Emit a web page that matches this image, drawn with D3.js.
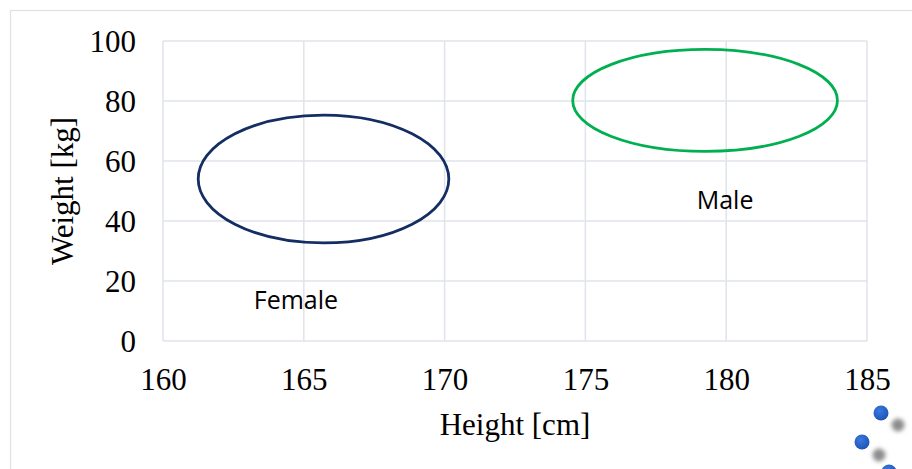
<!DOCTYPE html>
<html>
<head>
<meta charset="utf-8">
<script src="https://cdn.jsdelivr.net/npm/d3@7"></script>
<style>
  html, body { margin: 0; padding: 0; background: #ffffff; }
  svg { display: block; }
</style>
</head>
<body>
<svg id="chart" width="912" height="469"></svg>
<script>
// Height/weight ranges of two groups, drawn as ellipses
const groups = ["Female", "Male"];
const centerHeight = [165.7, 179.25];   // cm
const centerWeight = [54.0, 80.2];      // kg
const spreadHeight = [4.45, 4.7];       // cm (semi-axis)
const spreadWeight = [21.3, 17.0];      // kg (semi-axis)
const groupColors = ["#142d62", "#00b050"];
const labelHeight = [164.72, 179.96];   // cm, label anchor
const labelWeight = [10.7, 44.0];       // kg, label baseline

const xTicks = [160, 165, 170, 175, 180, 185];
const yTicks = [0, 20, 40, 60, 80, 100];

const svg = d3.select("#chart");
const W = 912, H = 469;
const plot = { left: 163, right: 867, top: 41, bottom: 341 };

const x = d3.scaleLinear().domain([160, 185]).range([plot.left, plot.right]);
const y = d3.scaleLinear().domain([0, 100]).range([plot.bottom, plot.top]);

const gridColor = "#dfe3ea";
const serif = "'Liberation Serif', 'Times New Roman', serif";

// chart frame
svg.append("rect")
  .attr("x", 10.5).attr("y", 10.5)
  .attr("width", W + 20).attr("height", H + 20)
  .attr("fill", "none").attr("stroke", "#dde1e8").attr("stroke-width", 1.2);

// gridlines
svg.append("g").attr("class", "grid-y")
  .selectAll("line").data(yTicks).join("line")
  .attr("x1", plot.left).attr("x2", plot.right)
  .attr("y1", d => y(d)).attr("y2", d => y(d))
  .attr("stroke", gridColor).attr("stroke-width", 1.5);

svg.append("g").attr("class", "grid-x")
  .selectAll("line").data(xTicks).join("line")
  .attr("y1", plot.top).attr("y2", plot.bottom)
  .attr("x1", d => x(d)).attr("x2", d => x(d))
  .attr("stroke", gridColor).attr("stroke-width", 1.5);

// axes (labels only, lines come from the grid)
const xAxis = d3.axisBottom(x).tickValues(xTicks).tickSize(0).tickPadding(0).tickFormat(d3.format("d"));
const gx = svg.append("g").attr("transform", `translate(0,${plot.bottom})`).call(xAxis);
gx.select(".domain").remove();
gx.selectAll("text")
  .attr("y", 49).attr("dy", null)
  .attr("font-family", serif).attr("font-size", 31).attr("fill", "#000");

const yAxis = d3.axisLeft(y).tickValues(yTicks).tickSize(0).tickPadding(0).tickFormat(d3.format("d"));
const gy = svg.append("g").attr("transform", `translate(${plot.left},0)`).call(yAxis);
gy.select(".domain").remove();
gy.selectAll("text")
  .attr("x", -27).attr("dy", "0.34em")
  .attr("font-family", serif).attr("font-size", 31).attr("fill", "#000");

// axis titles
svg.append("text")
  .attr("x", (plot.left + plot.right) / 2).attr("y", 435)
  .attr("text-anchor", "middle")
  .attr("font-family", serif).attr("font-size", 31).attr("fill", "#000")
  .text("Height [cm]");

svg.append("text")
  .attr("transform", `translate(73,${(plot.top + plot.bottom) / 2}) rotate(-90)`)
  .attr("text-anchor", "middle")
  .attr("font-family", serif).attr("font-size", 31).attr("fill", "#000")
  .text("Weight [kg]");

// ellipses
const idx = d3.range(groups.length);
svg.append("g").attr("class", "ellipses")
  .selectAll("ellipse").data(idx).join("ellipse")
  .attr("cx", i => x(centerHeight[i]))
  .attr("cy", i => y(centerWeight[i]))
  .attr("rx", i => x(centerHeight[i] + spreadHeight[i]) - x(centerHeight[i]))
  .attr("ry", i => y(centerWeight[i]) - y(centerWeight[i] + spreadWeight[i]))
  .attr("fill", "none")
  .attr("stroke", i => groupColors[i])
  .attr("stroke-width", 2.8);

// group labels
svg.append("g").attr("class", "labels")
  .selectAll("text").data(idx).join("text")
  .attr("x", i => x(labelHeight[i]))
  .attr("y", i => y(labelWeight[i]))
  .attr("text-anchor", "middle")
  .attr("font-family", "'Open Sans', 'Noto Sans', sans-serif")
  .attr("font-size", 25)
  .attr("fill", "#000")
  .text(i => groups[i]);

// decorative dots in the corner
const defs = svg.append("defs");
defs.append("filter").attr("id", "soft").attr("x", "-1").attr("y", "-1").attr("width", 3).attr("height", 3)
  .append("feGaussianBlur").attr("stdDeviation", 2.2);
const grad = defs.append("radialGradient").attr("id", "dotGrad").attr("cx", "40%").attr("cy", "35%").attr("r", "65%");
grad.append("stop").attr("offset", "0%").attr("stop-color", "#3a78e0");
grad.append("stop").attr("offset", "100%").attr("stop-color", "#1f55b8");

const deco = svg.append("g").attr("class", "corner-dots");
const shadows = [[898, 425], [879, 455]];
const dots = [[881, 413], [862, 442], [889, 472]];
deco.selectAll("circle.shadow").data(shadows).join("circle")
  .attr("class", "shadow")
  .attr("cx", d => d[0]).attr("cy", d => d[1]).attr("r", 6.5)
  .attr("fill", "#8c8c8c").attr("filter", "url(#soft)");
deco.selectAll("circle.dot").data(dots).join("circle")
  .attr("class", "dot")
  .attr("cx", d => d[0]).attr("cy", d => d[1]).attr("r", 7.5)
  .attr("fill", "url(#dotGrad)");
</script>
</body>
</html>
